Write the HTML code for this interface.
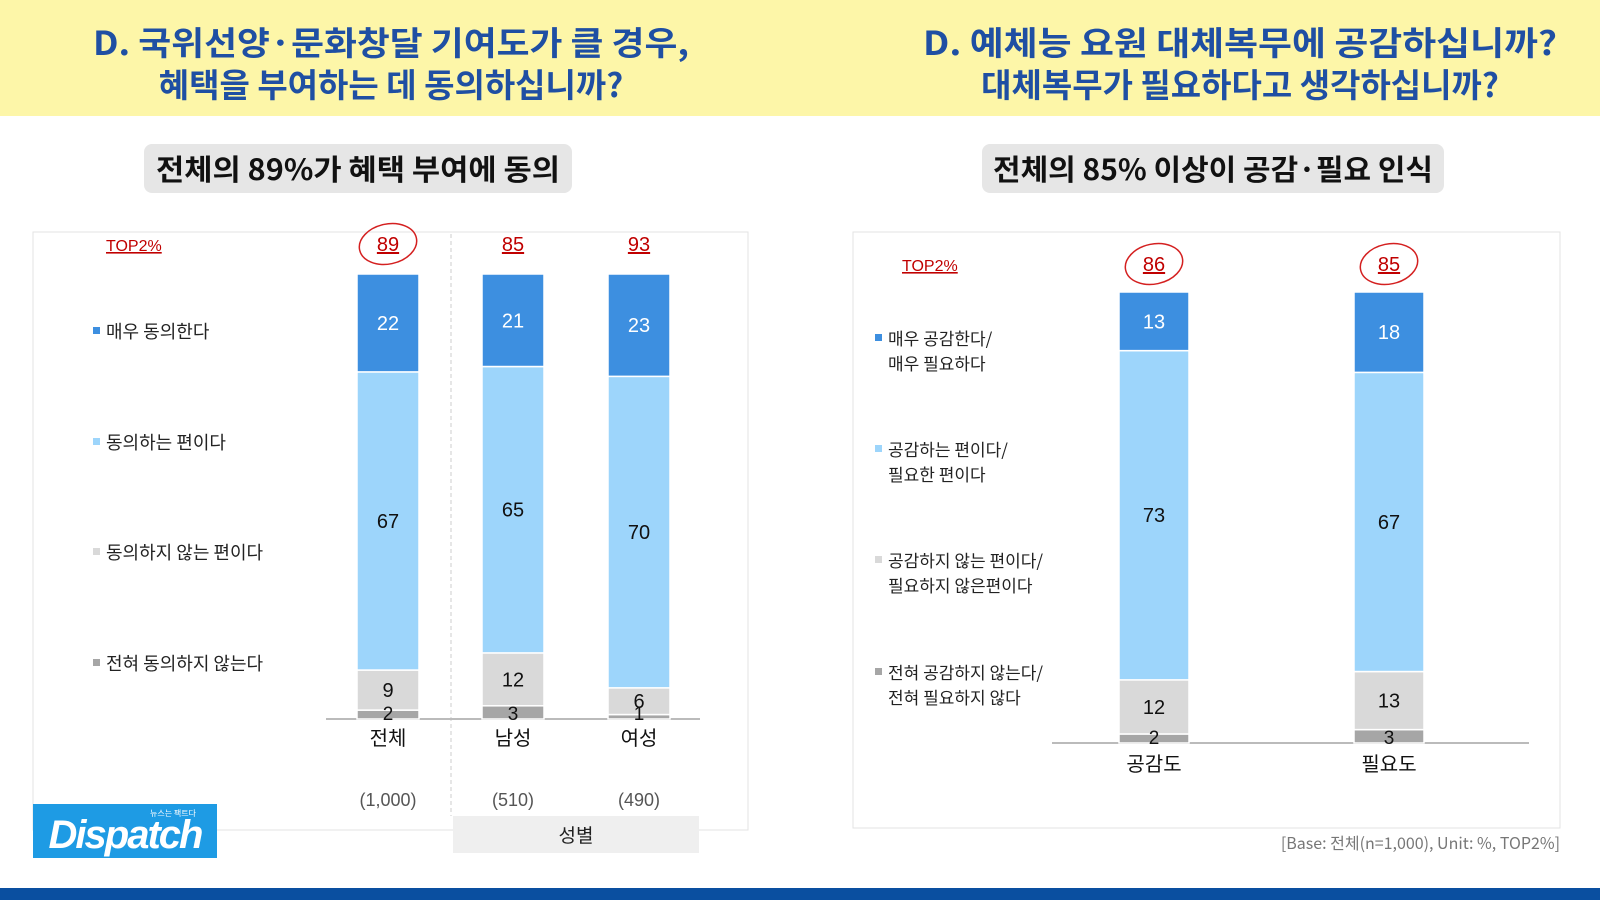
<!DOCTYPE html>
<html><head><meta charset="utf-8">
<style>
html,body{margin:0;padding:0;background:#fff;}
svg{display:block;font-family:"Liberation Sans","Noto Sans CJK KR",sans-serif;}
.t{font-family:"Noto Sans CJK KR","Liberation Sans",sans-serif;}
</style></head>
<body>
<svg id="s" width="1600" height="900" viewBox="0 0 1600 900" xmlns="http://www.w3.org/2000/svg">
<rect x="0" y="0" width="1600" height="116" fill="#fdf6a8"/>
<g class="t" font-weight="700" font-size="33" fill="#1f4fa3" text-anchor="middle">
<text x="391" y="55" textLength="596" lengthAdjust="spacingAndGlyphs">D. 국위선양·문화창달 기여도가 클 경우,</text>
<text x="391" y="97">혜택을 부여하는 데 동의하십니까?</text>
<text x="1240" y="55" textLength="634" lengthAdjust="spacingAndGlyphs">D. 예체능 요원 대체복무에 공감하십니까?</text>
<text x="1240" y="97">대체복무가 필요하다고 생각하십니까?</text>
</g>
<rect x="144" y="144" width="428" height="49" rx="8" fill="#e6e6e6"/>
<rect x="982" y="144" width="462" height="49" rx="8" fill="#e6e6e6"/>
<g class="t" font-weight="700" font-size="29" fill="#111" text-anchor="middle">
<text x="358" y="180" textLength="404" lengthAdjust="spacingAndGlyphs">전체의 89%가 혜택 부여에 동의</text>
<text x="1213" y="180" textLength="440" lengthAdjust="spacingAndGlyphs">전체의 85% 이상이 공감·필요 인식</text>
</g>
<rect x="33" y="232" width="715" height="598" fill="#fff" stroke="#e3e3e3"/>
<rect x="853" y="232" width="707" height="596" fill="#fff" stroke="#e3e3e3"/>
<line x1="451" y1="234" x2="451" y2="816" stroke="#ccc" stroke-dasharray="4,3"/>
<rect x="453" y="816" width="246" height="37" fill="#efefef"/>
<text class="t" x="576" y="842" font-size="19" text-anchor="middle" fill="#222">성별</text>
<g id="g"></g>
<text x="1560" y="849" font-size="16" fill="#777" text-anchor="end" class="t">[Base: 전체(n=1,000), Unit: %, TOP2%]</text>
<rect x="33" y="804" width="184" height="54" fill="#1e9be4"/>
<text x="125" y="848" font-size="40" font-weight="700" font-style="italic" fill="#fff" text-anchor="middle" letter-spacing="-2">Dispatch</text>
<text x="150" y="816" font-size="8" fill="#fff" class="t">뉴스는 팩트다</text>
<rect x="0" y="888" width="1600" height="12" fill="#0a4fa0"/>
</svg>
<script>
var g=document.getElementById('g'),h='';
var C=['#a6a6a6','#d9d9d9','#9dd5fb','#3d8fe0'];
function chart(o){
 var tx='';
 h+='<line x1="'+o.ax1+'" x2="'+o.ax2+'" y1="'+o.base+'" y2="'+o.base+'" stroke="#bbb" stroke-width="2"/>';
 h+='<text x="'+o.tx+'" y="'+o.ty+'" font-size="16" fill="#c00000" text-decoration="underline">TOP2%</text>';
 o.bars.forEach(function(b,i){
  var sum=b.v.reduce(function(a,c){return a+c},0),y=o.base,H=o.base-o.top;
  b.v.forEach(function(v,j){
   var hh=v/sum*H;y-=hh;
   h+='<rect x="'+(b.cx-o.w/2)+'" y="'+y+'" width="'+o.w+'" height="'+hh+'" fill="'+C[j]+'" stroke="#fff" stroke-width="1.5"/>';
   var ly=y+hh/2+7; if(j==0) ly=o.base+1;
   tx+='<text x="'+b.cx+'" y="'+ly+'" font-size="'+(j==0?19:20)+'" text-anchor="middle" fill="'+(j==3?'#fff':'#111')+'">'+v+'</text>';
  });
  h+='<text x="'+b.cx+'" y="'+(o.ty)+'" font-size="20" text-anchor="middle" fill="#c00000" text-decoration="underline">'+b.t+'</text>';
  if(b.c) h+='<ellipse cx="'+b.cx+'" cy="'+(o.ty-7)+'" rx="29" ry="20" fill="none" stroke="#d42020" stroke-width="1.5" transform="rotate(-12 '+b.cx+' '+(o.ty-7)+')"/>';
  h+='<text class="t" x="'+b.cx+'" y="'+o.cy+'" font-size="20" text-anchor="middle" fill="#111">'+b.n+'</text>';
  if(b.s) h+='<text x="'+b.cx+'" y="'+o.sy+'" font-size="18" text-anchor="middle" fill="#555">'+b.s+'</text>';
 });
 h+=tx;
 o.leg.forEach(function(l,i){
  h+='<rect x="'+o.lx+'" y="'+(l.y-11)+'" width="7" height="7" fill="'+C[3-i]+'"/>';
  l.t.forEach(function(s,k){h+='<text class="t" x="'+(o.lx+13)+'" y="'+(l.y+k*25)+'" font-size="'+o.fs+'" fill="#222">'+s+'</text>';});
 });
}
chart({ax1:326,ax2:700,base:719,top:274,w:62,tx:106,ty:251,cy:745,sy:806,lx:93,fs:18,
 bars:[{cx:388,v:[2,9,67,22],t:'89',c:1,n:'전체',s:'(1,000)'},{cx:513,v:[3,12,65,21],t:'85',n:'남성',s:'(510)'},{cx:639,v:[1,6,70,23],t:'93',n:'여성',s:'(490)'}],
 leg:[{y:338,t:['매우 동의한다']},{y:449,t:['동의하는 편이다']},{y:559,t:['동의하지 않는 편이다']},{y:670,t:['전혀 동의하지 않는다']}]});
chart({ax1:1052,ax2:1529,base:743,top:292,w:70,tx:902,ty:271,cy:771,lx:875,fs:17,
 bars:[{cx:1154,v:[2,12,73,13],t:'86',c:1,n:'공감도'},{cx:1389,v:[3,13,67,18],t:'85',c:1,n:'필요도'}],
 leg:[{y:345,t:['매우 공감한다/','매우 필요하다']},{y:456,t:['공감하는 편이다/','필요한 편이다']},{y:567,t:['공감하지 않는 편이다/','필요하지 않은편이다']},{y:679,t:['전혀 공감하지 않는다/','전혀 필요하지 않다']}]});
g.innerHTML=h;
</script>
</body></html>
